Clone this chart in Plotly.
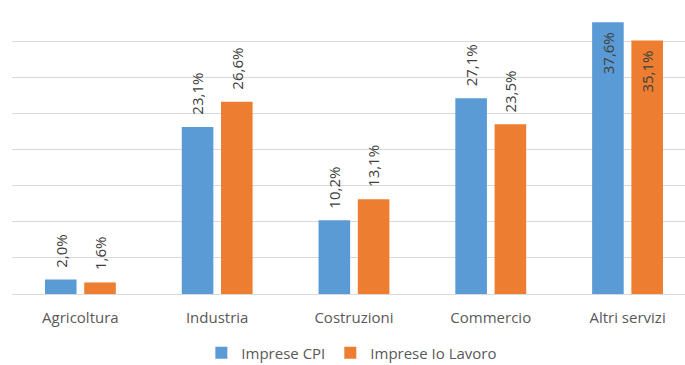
import plotly.graph_objects as go

categories = ["Agricoltura", "Industria", "Costruzioni", "Commercio", "Altri servizi"]
imprese_cpi = [2.0, 23.1, 10.2, 27.1, 37.6]
imprese_io_lavoro = [1.6, 26.6, 13.1, 23.5, 35.1]
series_names = ["Imprese CPI", "Imprese Io Lavoro"]
colors = ["#5B9BD5", "#ED7D31"]

FONT = "Open Sans"
FS = 15
BAR_W = 0.231
OFFSETS = [-0.259, 0.028]

fig = go.Figure()
for name, vals, col, off in zip(series_names, [imprese_cpi, imprese_io_lavoro], colors, OFFSETS):
    fig.add_trace(go.Bar(
        x=categories, y=vals, name=name,
        marker=dict(color=col, line=dict(width=0)),
        width=BAR_W, offset=off,
    ))

def fmt(v):
    return f"{v:.1f}".replace(".", ",") + "%"

annotations = []
for vals, off in zip([imprese_cpi, imprese_io_lavoro], OFFSETS):
    for i, v in enumerate(vals):
        inside = v > 30
        annotations.append(dict(
            x=i + off + BAR_W / 2, y=v, xref="x", yref="y",
            text=fmt(v), showarrow=False, textangle=-90,
            yanchor="top" if inside else "bottom",
            yshift=-8 if inside else 10,
            font=dict(family=FONT, size=FS, color="#404040"),
        ))

fig.update_layout(
    width=685, height=365,
    margin=dict(l=12, r=0, t=5, b=71, autoexpand=False),
    paper_bgcolor="white", plot_bgcolor="white",
    barmode="overlay",
    annotations=annotations,
    showlegend=True,
    legend=dict(orientation="h", x=0.505, xanchor="center",
                yref="container", y=0.033, yanchor="middle",
                font=dict(family=FONT, size=FS, color="#595959"),
                itemwidth=30, traceorder="normal"),
    font=dict(family=FONT, size=FS, color="#595959"),
)
fig.update_xaxes(type="category", range=[-0.5, 4.42], showgrid=False, showline=False,
                 zeroline=False, ticks="", ticklabelstandoff=13, automargin=False,
                 tickfont=dict(family=FONT, size=FS, color="#595959"))
fig.update_yaxes(range=[0, 40], dtick=5, showgrid=True, gridcolor="#D9D9D9", gridwidth=1,
                 zeroline=True, zerolinecolor="#D9D9D9", zerolinewidth=1, automargin=False,
                 showticklabels=False, ticks="", showline=False)

fig.write_html("out.html")
